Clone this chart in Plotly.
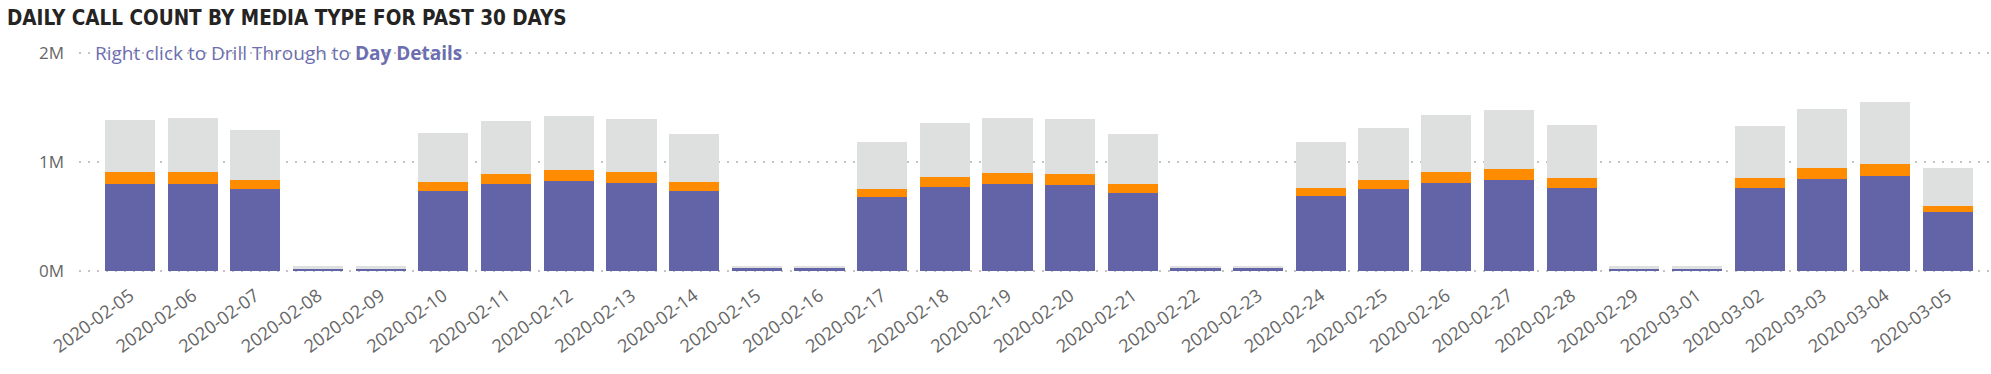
import plotly.graph_objects as go

dates = [
    "2020-02-05", "2020-02-06", "2020-02-07", "2020-02-08", "2020-02-09",
    "2020-02-10", "2020-02-11", "2020-02-12", "2020-02-13", "2020-02-14",
    "2020-02-15", "2020-02-16", "2020-02-17", "2020-02-18", "2020-02-19",
    "2020-02-20", "2020-02-21", "2020-02-22", "2020-02-23", "2020-02-24",
    "2020-02-25", "2020-02-26", "2020-02-27", "2020-02-28", "2020-02-29",
    "2020-03-01", "2020-03-02", "2020-03-03", "2020-03-04", "2020-03-05",
]

audio = [
    800000, 800000, 749000, 25000, 25000,
    736000, 800000, 828000, 807000, 735000,
    27000, 27000, 681000, 773000, 800000,
    788000, 712000, 26000, 26000, 688000,
    749000, 807000, 831000, 764000, 25000,
    25000, 764000, 840000, 874000, 543000,
]

video = [
    108000, 108000, 88000, 0, 0,
    80000, 90000, 98000, 101000, 81000,
    0, 0, 74000, 92000, 96000,
    102000, 86000, 0, 0, 73000,
    85000, 101000, 106000, 92000, 0,
    0, 89000, 102000, 110000, 52000,
]

other = [
    478000, 494000, 453000, 17000, 17000,
    448000, 487000, 497000, 491000, 443000,
    16000, 16000, 426000, 497000, 509000,
    503000, 457000, 16000, 16000, 424000,
    479000, 522000, 540000, 484000, 17000,
    17000, 475000, 543000, 568000, 347000,
]

y_tick_vals = [0, 1000000, 2000000]
y_tick_text = ["0M", "1M", "2M"]

title_text = "DAILY CALL COUNT BY MEDIA TYPE FOR PAST 30 DAYS"
hint_text = "Right click to Drill Through to <b>Day Details</b>"

fig = go.Figure()
fig.add_trace(go.Bar(x=dates, y=audio, name="Audio", marker=dict(color="#6264A7", line=dict(width=0))))
fig.add_trace(go.Bar(x=dates, y=video, name="Video", marker=dict(color="#FF8C00", line=dict(width=0))))
fig.add_trace(go.Bar(x=dates, y=other, name="Other", marker=dict(color="#DEE0DF", line=dict(width=0))))

W, H = 1991, 374
ml, mr, mt, mb = 79, 2, 51, 101

fig.update_layout(
    width=W, height=H,
    barmode="stack",
    bargap=0.2,
    showlegend=False,
    plot_bgcolor="white",
    paper_bgcolor="white",
    margin=dict(l=ml, r=mr, t=mt, b=mb, pad=0, autoexpand=False),
    font=dict(family="Segoe UI, Open Sans, sans-serif", color="#666666"),
    title=dict(
        text=title_text,
        xref="container", yref="container",
        x=7 / W, xanchor="left",
        y=1 - 18 / H, yanchor="middle",
        font=dict(family="Liberation Sans Narrow, DejaVu Sans Condensed, Roboto Condensed, sans-serif",
                  size=20.5, color="#252423", weight="bold"),
    ),
    xaxis=dict(
        type="category",
        range=[-0.814, 29.66],
        showgrid=False,
        showline=False,
        zeroline=False,
        ticks="",
        tickangle=-36,
        automargin=False,
        ticklabelstandoff=8,
        tickfont=dict(size=18, color="#666666", family="Segoe UI, Open Sans, sans-serif"),
    ),
    yaxis=dict(
        range=[-20000, 2020000],
        tickvals=y_tick_vals,
        ticktext=y_tick_text,
        showgrid=True,
        gridcolor="#C4C4C4",
        gridwidth=2,
        griddash="2px,7px",
        zeroline=False,
        showline=False,
        ticks="",
        automargin=False,
        ticklabelstandoff=14,
        tickfont=dict(size=17, color="#666666", family="Segoe UI, Open Sans, sans-serif"),
    ),
)

fig.add_annotation(
    text=hint_text,
    xref="paper", yref="y",
    x=(93 - ml) / (W - ml - mr), xanchor="left",
    y=2000000, yanchor="middle",
    showarrow=False,
    font=dict(size=19, color="#6C6EB0", family="Segoe UI, Open Sans, sans-serif"),
)

fig.write_html(
    "out.html",
    config={"displayModeBar": False},
    post_script="document.body.style.margin='0';document.body.style.overflow='hidden';",
)
